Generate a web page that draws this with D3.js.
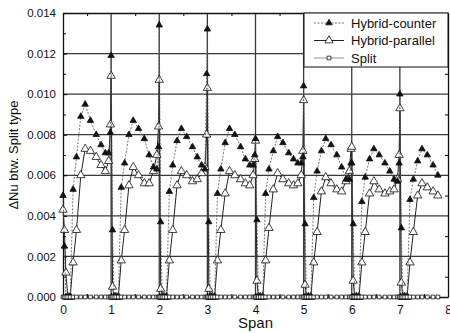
<!DOCTYPE html>
<html>
<head>
<meta charset="utf-8">
<script src="https://cdn.jsdelivr.net/npm/d3@7/dist/d3.min.js"></script>
<style>
  html, body { margin: 0; background: #fff; overflow: hidden; }
  svg { display: block; }
  text { font-family: "Liberation Sans", Arial, sans-serif; fill: #111; }
</style>
</head>
<body>
<div id="chart"></div>
<script>
// span position of each sample
const spanX = [
    0.00, 0.03, 0.06, 0.10, 0.15, 0.21, 0.28, 0.37, 0.46, 0.57, 0.69, 0.79, 0.88, 0.95, 0.985,
    1.00, 1.03, 1.06, 1.10, 1.15, 1.21, 1.28, 1.37, 1.46, 1.57, 1.69, 1.79, 1.88, 1.95, 1.985,
    2.00, 2.03, 2.06, 2.10, 2.15, 2.21, 2.28, 2.37, 2.46, 2.57, 2.69, 2.79, 2.88, 2.95, 2.985,
    3.00, 3.03, 3.06, 3.10, 3.15, 3.21, 3.28, 3.37, 3.46, 3.57, 3.69, 3.79, 3.88, 3.95, 3.985,
    4.00, 4.03, 4.06, 4.10, 4.15, 4.21, 4.28, 4.37, 4.46, 4.57, 4.69, 4.79, 4.88, 4.95, 4.985,
    5.00, 5.03, 5.06, 5.10, 5.15, 5.21, 5.28, 5.37, 5.46, 5.57, 5.69, 5.79, 5.88, 5.95, 5.985,
    6.00, 6.03, 6.06, 6.10, 6.15, 6.21, 6.28, 6.37, 6.46, 6.57, 6.69, 6.79, 6.88, 6.95, 6.985,
    7.00, 7.03, 7.06, 7.10, 7.15, 7.21, 7.28, 7.37, 7.46, 7.57, 7.69, 7.79
];
const counterNu = [
    0.0050, 0.0025, 0, 0, 0, 0.0053, 0.0069, 0.0089, 0.0095, 0.0087, 0.0080, 0.0075, 0.0071, 0.0071, 0.0081,
    0.0119, 0.0033, 0, 0, 0, 0.0054, 0.0066, 0.0080, 0.0087, 0.0083, 0.0078, 0.0070, 0.0064, 0.0063, 0.0074,
    0.0134, 0.0037, 0, 0, 0, 0.0052, 0.0065, 0.0077, 0.0083, 0.0079, 0.0074, 0.0069, 0.0065, 0.0063, 0.0110,
    0.0132, 0.0037, 0, 0, 0, 0.0051, 0.0063, 0.0076, 0.0083, 0.0080, 0.0074, 0.0068, 0.0065, 0.0065, 0.0070,
    0.0078, 0.0038, 0, 0, 0, 0.0051, 0.0063, 0.0072, 0.0079, 0.0076, 0.0071, 0.0068, 0.0066, 0.0066, 0.0069,
    0.0104, 0.0036, 0, 0, 0, 0.0049, 0.0062, 0.0072, 0.0078, 0.0075, 0.0070, 0.0064, 0.0058, 0.0058, 0.0066,
    0.0066, 0.0036, 0, 0, 0, 0.0047, 0.0059, 0.0068, 0.0073, 0.0070, 0.0066, 0.0062, 0.0058, 0.0057, 0.0066,
    0.0100, 0.0034, 0, 0, 0, 0.0048, 0.0058, 0.0067, 0.0073, 0.0070, 0.0065, 0.0060
];
const parallelNu = [
    0.0043, 0.0033, 0.0012, 0, 0, 0.0017, 0.0033, 0.0060, 0.0073, 0.0072, 0.0069, 0.0065, 0.0062, 0.0067, 0.0085,
    0.0109, 0.0005, 0, 0, 0, 0.0018, 0.0033, 0.0055, 0.0064, 0.0060, 0.0056, 0.0056, 0.0062, 0.0070, 0.0084,
    0.0107, 0.0004, 0, 0, 0, 0.0018, 0.0033, 0.0055, 0.0062, 0.0060, 0.0057, 0.0058, 0.0061, 0.0064, 0.0080,
    0.0103, 0.0004, 0, 0, 0, 0.0018, 0.0033, 0.0051, 0.0062, 0.0060, 0.0058, 0.0056, 0.0055, 0.0060, 0.0068,
    0.0077, 0.0008, 0, 0, 0, 0.0018, 0.0034, 0.0053, 0.0061, 0.0058, 0.0056, 0.0055, 0.0056, 0.0060, 0.0072,
    0.0097, 0.0006, 0, 0, 0, 0.0017, 0.0032, 0.0052, 0.0059, 0.0056, 0.0053, 0.0052, 0.0057, 0.0062, 0.0073,
    0.0074, 0.0008, 0, 0, 0, 0.0017, 0.0032, 0.0051, 0.0057, 0.0053, 0.0051, 0.0052, 0.0053, 0.0058, 0.0070,
    0.0093, 0.0007, 0, 0, 0, 0.0017, 0.0032, 0.0050, 0.0056, 0.0054, 0.0052, 0.0050
];
const splitNu = [
    0, 0, 0, 0, 0, 0, 0, 0, 0, 0, 0, 0, 0, 0, 0,
    0, 0, 0, 0, 0, 0, 0, 0, 0, 0, 0, 0, 0, 0, 0,
    0, 0, 0, 0, 0, 0, 0, 0, 0, 0, 0, 0, 0, 0, 0,
    0, 0, 0, 0, 0, 0, 0, 0, 0, 0, 0, 0, 0, 0, 0,
    0, 0, 0, 0, 0, 0, 0, 0, 0, 0, 0, 0, 0, 0, 0,
    0, 0, 0, 0, 0, 0, 0, 0, 0, 0, 0, 0, 0, 0, 0,
    0, 0, 0, 0, 0, 0, 0, 0, 0, 0, 0, 0, 0, 0, 0,
    0, 0, 0, 0, 0, 0, 0, 0, 0, 0, 0, 0
];
const seriesNames = ["Hybrid-counter", "Hybrid-parallel", "Split"];
const xTicks = [0, 1, 2, 3, 4, 5, 6, 7, 8];
const yTicks = [0, 0.002, 0.004, 0.006, 0.008, 0.010, 0.012, 0.014];

const width = 450;
const height = 333;
const margin = { top: 13, right: 2, bottom: 36, left: 63 };
const innerWidth = width - margin.left - margin.right;
const innerHeight = height - margin.top - margin.bottom;

const svg = d3.select("#chart")
    .append("svg")
    .attr("width", width)
    .attr("height", height);
const graph = svg.append("g")
    .attr("transform", "translate(" + margin.left + "," + margin.top + ")");

const x = d3.scaleLinear().domain([0, 8]).range([0, innerWidth]);
const y = d3.scaleLinear().domain([0, 0.014]).range([innerHeight, 0]);

// grid
graph.append("g")
    .selectAll("line")
    .data(xTicks.slice(1, -1))
    .enter()
    .append("line")
    .attr("x1", d => x(d)).attr("x2", d => x(d))
    .attr("y1", 0).attr("y2", innerHeight)
    .attr("stroke", "#3a3a3a").attr("stroke-width", 1.3);
graph.append("g")
    .selectAll("line")
    .data(yTicks.slice(1, -1))
    .enter()
    .append("line")
    .attr("x1", 0).attr("x2", innerWidth)
    .attr("y1", d => y(d)).attr("y2", d => y(d))
    .attr("stroke", "#3a3a3a").attr("stroke-width", 1.3);

// axes with inward ticks, minor ticks at halves
const minorX = xTicks.slice(0, -1).map(t => t + 0.5);
const minorY = yTicks.slice(0, -1).map(t => t + 0.001);
const dropText = g => g.selectAll("text").remove();

graph.append("g")
    .attr("transform", "translate(0," + innerHeight + ")")
    .call(d3.axisBottom(x).tickValues(xTicks).tickSizeInner(-4).tickSizeOuter(0).tickPadding(8).tickFormat(d3.format("d")))
    .call(g => g.selectAll("text").style("font-size", "12px"));
graph.append("g")
    .attr("transform", "translate(0," + innerHeight + ")")
    .call(d3.axisBottom(x).tickValues(minorX).tickSizeInner(-3).tickSizeOuter(0))
    .call(dropText)
    .call(g => g.select(".domain").remove());
graph.append("g")
    .call(d3.axisTop(x).tickValues(minorX).tickSizeInner(-3).tickSizeOuter(0))
    .call(dropText);
graph.append("g")
    .call(d3.axisLeft(y).tickValues(yTicks).tickSizeInner(-4).tickSizeOuter(0).tickPadding(7).tickFormat(d3.format(".3f")))
    .call(g => g.selectAll("text").style("font-size", "11.5px"));
graph.append("g")
    .call(d3.axisLeft(y).tickValues(minorY).tickSizeInner(-3).tickSizeOuter(0))
    .call(dropText)
    .call(g => g.select(".domain").remove());
graph.append("g")
    .attr("transform", "translate(" + innerWidth + ",0)")
    .call(d3.axisRight(y).tickValues(minorY).tickSizeInner(-3).tickSizeOuter(0))
    .call(dropText);
graph.selectAll(".domain").attr("stroke", "#111").attr("stroke-width", 1.3);

// axis titles
graph.append("text")
    .attr("x", innerWidth / 2)
    .attr("y", innerHeight + 31)
    .attr("text-anchor", "middle")
    .style("font-size", "15px")
    .text("Span");
graph.append("text")
    .attr("transform", "translate(" + (-45) + "," + (innerHeight / 2) + ") rotate(-90)")
    .attr("text-anchor", "middle")
    .style("font-size", "13px")
    .text("\u0394Nu btw. Split type");

// series (split drawn last so its squares stay visible along zero)
const series = [
    { name: seriesNames[1], values: parallelNu, line: "#222", width: 1, dash: null, shape: d3.symbolTriangle, size: 30, fill: "#fff" },
    { name: seriesNames[0], values: counterNu, line: "#555", width: 0.8, dash: "2,1.5", shape: d3.symbolTriangle, size: 18, fill: "#111" },
    { name: seriesNames[2], values: splitNu, line: "#777", width: 0.8, dash: null, shape: d3.symbolSquare, size: 14, fill: "#fff" }
];

const line = d3.line()
    .x(d => x(d[0]))
    .y(d => y(d[1]));

series.forEach(s => {
    const pts = spanX.map((sx, i) => [sx, s.values[i]]);
    graph.append("path")
        .datum(pts)
        .attr("fill", "none")
        .attr("stroke", s.line)
        .attr("stroke-width", s.width)
        .attr("stroke-dasharray", s.dash)
        .attr("d", line);
    graph.append("g")
        .selectAll("path")
        .data(pts)
        .enter()
        .append("path")
        .attr("transform", d => "translate(" + x(d[0]) + "," + y(d[1]) + ")")
        .attr("d", d3.symbol().type(s.shape).size(s.size))
        .attr("fill", s.fill)
        .attr("stroke", "#111")
        .attr("stroke-width", 0.8);
});

// legend
const legend = graph.append("g")
    .attr("transform", "translate(" + (innerWidth - 144) + ",0)");
legend.append("rect")
    .attr("width", 144)
    .attr("height", 54)
    .attr("fill", "#fff")
    .attr("stroke", "#111")
    .attr("stroke-width", 1);
const legendRows = [series[1], series[0], series[2]];
legend.selectAll("g.row")
    .data(legendRows)
    .enter()
    .append("g")
    .attr("class", "row")
    .attr("transform", (d, i) => "translate(0," + (10 + i * 17.5) + ")")
    .each(function (d) {
        const row = d3.select(this);
        row.append("line")
            .attr("x1", 10).attr("x2", 40)
            .attr("stroke", d.line).attr("stroke-width", d.width)
            .attr("stroke-dasharray", d.dash);
        row.append("path")
            .attr("transform", "translate(25,0)")
            .attr("d", d3.symbol().type(d.shape).size(d.size))
            .attr("fill", d.fill)
            .attr("stroke", "#111")
            .attr("stroke-width", 0.8);
        row.append("text")
            .attr("x", 47)
            .attr("y", 4.5)
            .style("font-size", "13px")
            .text(d.name);
    });
</script>
</body>
</html>
